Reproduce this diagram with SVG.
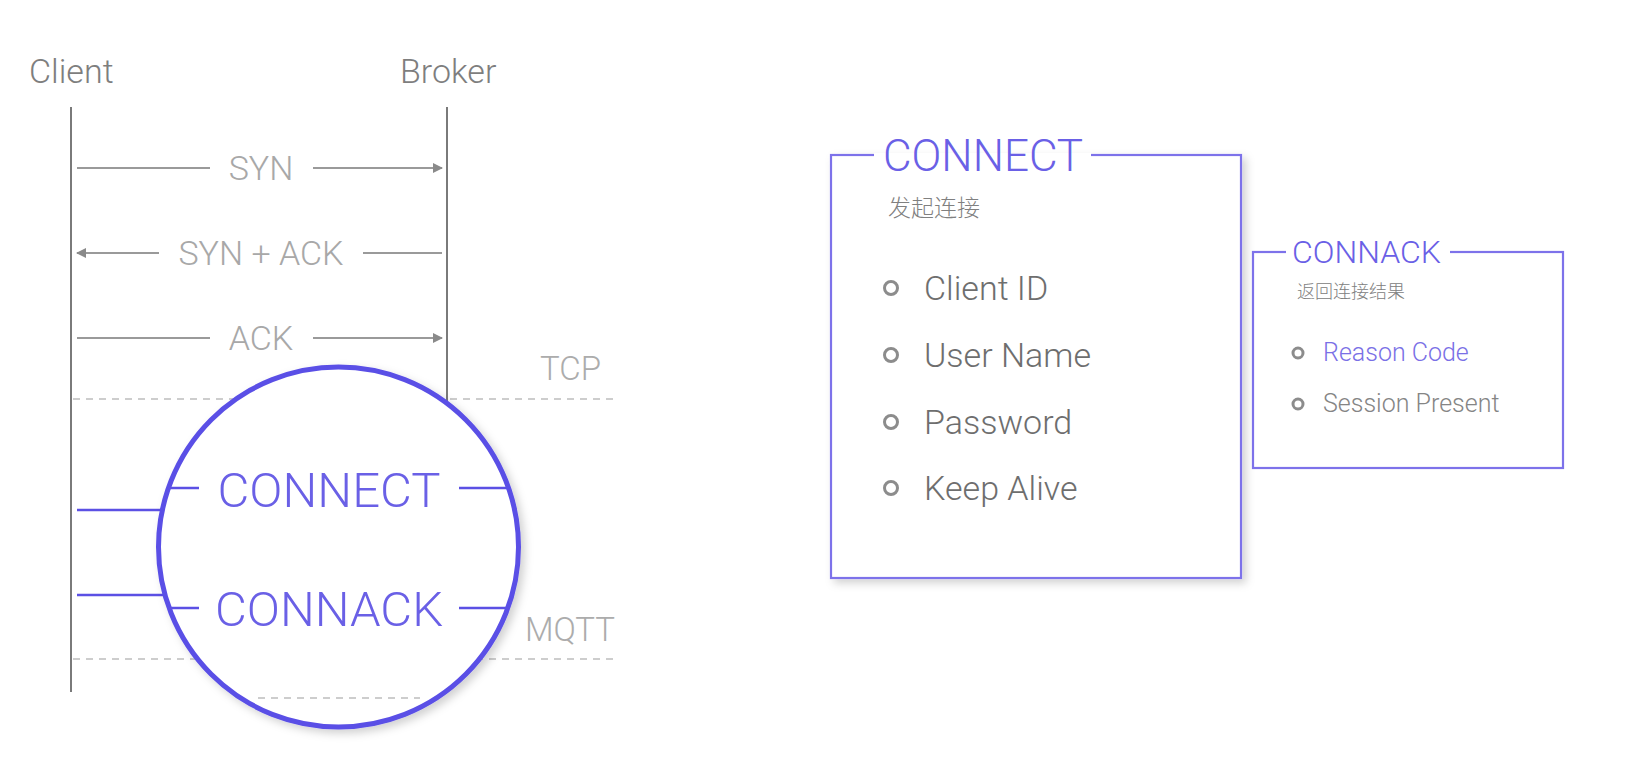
<svg xmlns="http://www.w3.org/2000/svg" width="1628" height="774" viewBox="0 0 1628 774">
  <style>
    .t { font-family: Roboto, "Liberation Sans", Arial, sans-serif; font-weight: 300; }
    .hdr { font-size: 34px; fill: #7e7e7e; }
    .msg { font-size: 34px; fill: #a8a8a8; text-anchor: middle; }
    .layer { font-size: 33px; fill: #acacac; }
    .life { stroke: #7a7a7a; stroke-width: 2; fill: none; }
    .arr { stroke: #9a9a9a; stroke-width: 2; fill: none; }
    .dash { stroke: #bdbdbd; stroke-width: 1.6; stroke-dasharray: 7 6; fill: none; }
    .pl { stroke: #5b50e4; stroke-width: 2.5; fill: none; }
    .ptxt { font-size: 49px; fill: #6a60e6; text-anchor: middle; }
    .box { fill: #ffffff; stroke: #7d72ea; stroke-width: 2.2; }
    .bullet { fill: none; stroke: #8c8c8c; stroke-width: 3; }
    .item { font-size: 34px; fill: #6e6e6e; }
    .item2 { font-size: 25px; fill: #858585; }
    .cjk { font-family: "Noto Sans CJK SC", sans-serif; font-weight: 300; fill: #808080; }
  </style>
  <defs>
    <marker id="ah" viewBox="0 0 10 10" refX="9" refY="5" markerWidth="5" markerHeight="5" orient="auto-start-reverse" markerUnits="strokeWidth">
      <path d="M0,0 L10,5 L0,10 z" fill="#8a8a8a"/>
    </marker>
    <filter id="sh" x="-10%" y="-10%" width="125%" height="125%">
      <feDropShadow dx="4" dy="4" stdDeviation="4" flood-color="#000" flood-opacity="0.18"/>
    </filter>
  </defs>
  <rect width="1628" height="774" fill="#ffffff"/>

  <g id="client">
    <text class="t hdr" x="29" y="83">Client</text>
    <line class="life" x1="71" y1="107" x2="71" y2="692"/>
  </g>
  <g id="broker">
    <text class="t hdr" x="400" y="83">Broker</text>
    <line class="life" x1="447" y1="107" x2="447" y2="692"/>
  </g>

  <g id="layers">
    <line class="dash" x1="73" y1="399" x2="618" y2="399"/>
    <line class="dash" x1="73" y1="659" x2="618" y2="659"/>
    <text class="t layer" x="540" y="380">TCP</text>
    <text class="t layer" x="525" y="641">MQTT</text>
  </g>

  <g id="connectors">
    <line class="arr" x1="77" y1="168" x2="210" y2="168"/>
    <line class="arr" x1="313" y1="168" x2="442" y2="168" marker-end="url(#ah)"/>
    <line class="arr" x1="159" y1="253" x2="77" y2="253" marker-end="url(#ah)"/>
    <line class="arr" x1="363" y1="253" x2="442" y2="253"/>
    <line class="arr" x1="77" y1="338" x2="210" y2="338"/>
    <line class="arr" x1="313" y1="338" x2="442" y2="338" marker-end="url(#ah)"/>
    <line class="pl" x1="77" y1="510" x2="162" y2="510"/>
    <line class="pl" x1="77" y1="595" x2="163" y2="595"/>
  </g>

  <g id="tcp-labels">
    <text class="t msg" x="261" y="180">SYN</text>
    <text class="t msg" x="261" y="265">SYN + ACK</text>
    <text class="t msg" x="261" y="350">ACK</text>
  </g>

  <g id="magnifier">
    <circle cx="338.5" cy="547" r="180" fill="#ffffff" stroke="#5a4fe6" stroke-width="5" filter="url(#sh)"/>
    <line class="dash" x1="258" y1="698" x2="420" y2="698"/>
    <line class="pl" x1="169" y1="488" x2="199" y2="488"/>
    <line class="pl" x1="459" y1="488" x2="507" y2="488"/>
    <text class="t ptxt" x="329" y="507">CONNECT</text>
    <line class="pl" x1="169" y1="608" x2="199" y2="608"/>
    <line class="pl" x1="459" y1="608" x2="507" y2="608"/>
    <text class="t ptxt" x="329" y="626">CONNACK</text>
  </g>

  <g id="connect-box">
    <rect class="box" x="831" y="155" width="410" height="423" filter="url(#sh)"/>
    <line x1="874" y1="155" x2="1091" y2="155" stroke="#ffffff" stroke-width="4"/>
    <text class="t" x="883" y="171" font-size="44" fill="#6a60e6">CONNECT</text>
    <text class="cjk" x="888" y="216" font-size="23">发起连接</text>
    <circle class="bullet" cx="891" cy="288" r="6.5"/>
    <text class="t item" x="924" y="300">Client ID</text>
    <circle class="bullet" cx="891" cy="355" r="6.5"/>
    <text class="t item" x="924" y="367">User Name</text>
    <circle class="bullet" cx="891" cy="422" r="6.5"/>
    <text class="t item" x="924" y="434">Password</text>
    <circle class="bullet" cx="891" cy="488" r="6.5"/>
    <text class="t item" x="924" y="500">Keep Alive</text>
  </g>

  <g id="connack-box">
    <rect class="box" x="1253" y="252" width="310" height="216"/>
    <line x1="1286" y1="252" x2="1450" y2="252" stroke="#ffffff" stroke-width="4"/>
    <text class="t" x="1292" y="263" font-size="32" fill="#6a60e6">CONNACK</text>
    <text class="cjk" x="1297" y="298" font-size="18">返回连接结果</text>
    <circle class="bullet" cx="1298" cy="353" r="5" stroke-width="2.5"/>
    <text class="t item2" x="1323" y="361" style="fill:#7a70e6">Reason Code</text>
    <circle class="bullet" cx="1298" cy="404" r="5" stroke-width="2.5"/>
    <text class="t item2" x="1323" y="412">Session Present</text>
  </g>
</svg>
